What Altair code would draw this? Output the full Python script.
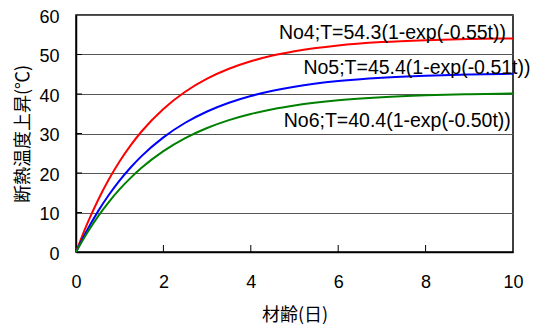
import altair as alt
import pandas as pd

# Age in days and adiabatic temperature rise (°C) for each mix
days = [0, 0.25, 0.5, 0.75, 1, 1.25, 1.5, 2, 2.5, 3, 3.5, 4, 4.5, 5, 6, 7, 8, 9, 10]
no4 = [0, 6.98, 13.05, 18.35, 22.97, 26.99, 30.51, 36.22, 40.57, 43.87, 46.38,
       48.28, 49.73, 50.83, 52.30, 53.14, 53.63, 53.92, 54.08]
no5 = [0, 5.43, 10.22, 14.43, 18.14, 21.40, 24.28, 29.03, 32.72, 35.57, 37.78,
       39.50, 40.82, 41.85, 43.27, 44.12, 44.63, 44.94, 45.12]
no6 = [0, 4.75, 8.94, 12.63, 15.90, 18.77, 21.32, 25.54, 28.83, 31.39, 33.38,
       34.93, 36.14, 37.08, 38.39, 39.18, 39.66, 39.95, 40.13]

series = ["No4", "No5", "No6"]
colors = ["#ff0000", "#0000ff", "#008000"]
labels = ["No4;T=54.3(1-exp(-0.55t))", "No5;T=45.4(1-exp(-0.51t))", "No6;T=40.4(1-exp(-0.50t))"]
label_x = [9.84, 10.4, 9.95]
label_y = [55.4, 46.6, 33.2]

x_ticks = [0, 2, 4, 6, 8, 10]
y_ticks = [0, 10, 20, 30, 40, 50, 60]

FONT = "Liberation Sans, Noto Sans CJK JP, sans-serif"
JP_FONT = "Noto Sans CJK JP, sans-serif"
W, H = 437, 237

rows = []
for name, vals in zip(series, [no4, no5, no6]):
    for d, v in zip(days, vals):
        rows.append({"day": d, "temp": v, "series": name})
df = pd.DataFrame(rows)

xs = alt.Scale(domain=[0, 10], nice=False)
ys = alt.Scale(domain=[0, 60], nice=False)

# one axis definition shared by every layer so the merged axes stay identical
x_axis = alt.Axis(values=x_ticks, title="材齢(日)", grid=False, tickSize=0,
                  labelPadding=21, titlePadding=15, labelFontSize=18, labelFlush=False,
                  labelFont=FONT, titleFont=JP_FONT, titleFontSize=18)
y_axis = alt.Axis(values=y_ticks, title="断熱温度上昇(℃)", grid=True,
                  gridColor="#555555", gridWidth=1, tickSize=0, labelFlush=False,
                  labelPadding=17, titlePadding=6, labelFontSize=18, labelOffset=2,
                  labelFont=FONT, titleFont=JP_FONT, titleFontSize=18)

lines = alt.Chart(df).mark_line(strokeWidth=2, interpolate="monotone").encode(
    x=alt.X("day:Q", scale=xs, axis=x_axis),
    y=alt.Y("temp:Q", scale=ys, axis=y_axis),
    color=alt.Color("series:N", scale=alt.Scale(domain=series, range=colors), legend=None),
)

# inward tick marks on the x and y axes
xt = alt.Chart(pd.DataFrame({"v": x_ticks[1:-1]})).mark_rule(color="black", strokeWidth=1).encode(
    x=alt.X("v:Q", scale=xs, axis=x_axis), y=alt.value(H), y2=alt.value(H - 7))
yt = alt.Chart(pd.DataFrame({"v": y_ticks[1:-1]})).mark_rule(color="black", strokeWidth=1).encode(
    y=alt.Y("v:Q", scale=ys, axis=y_axis), x=alt.value(0), x2=alt.value(6))

text = alt.Chart(pd.DataFrame({"x": label_x, "y": label_y, "t": labels})).mark_text(
    align="right", baseline="middle", font=FONT, fontSize=19.5, color="black"
).encode(x=alt.X("x:Q", scale=xs, axis=x_axis), y=alt.Y("y:Q", scale=ys, axis=y_axis), text="t:N")

chart = alt.layer(lines, xt, yt, text).properties(
    width=W, height=H,
    background="white",
    autosize=alt.AutoSizeParams(type="none"),
    padding={"left": 76, "top": 15, "right": 24, "bottom": 75},
).configure_view(stroke="black", strokeWidth=1.5).configure_axis(
    domainColor="black", domainWidth=1.5, labelColor="black", titleColor="black",
    titleFontWeight="normal",
)

chart.save("out.html", embed_options={"renderer": "svg", "actions": False})
